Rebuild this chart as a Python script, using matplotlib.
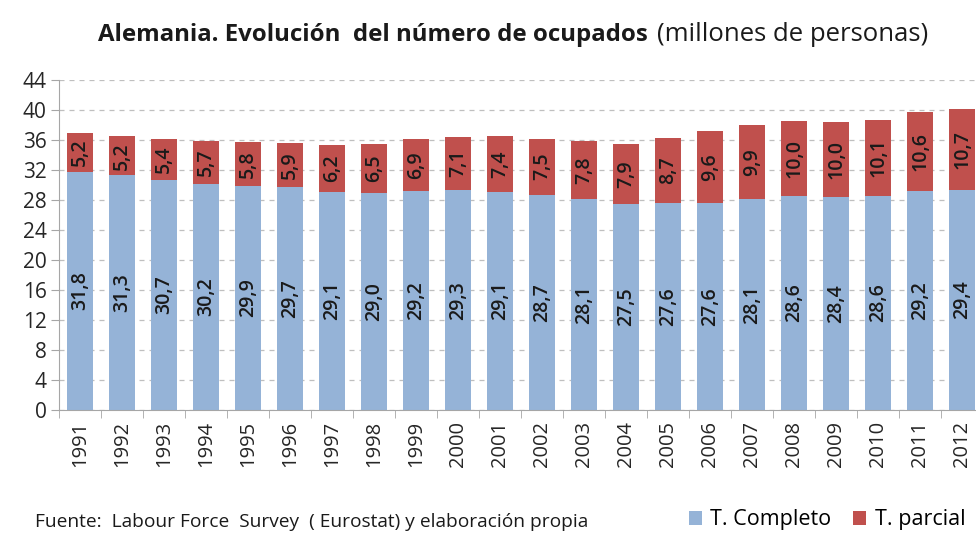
import matplotlib.pyplot as plt
import numpy as np

years = [str(y) for y in range(1991, 2013)]
completo = [31.8, 31.3, 30.7, 30.2, 29.9, 29.7, 29.1, 29.0, 29.2, 29.3, 29.1,
            28.7, 28.1, 27.5, 27.6, 27.6, 28.1, 28.6, 28.4, 28.6, 29.2, 29.4]
parcial = [5.2, 5.2, 5.4, 5.7, 5.8, 5.9, 6.2, 6.5, 6.9, 7.1, 7.4,
           7.5, 7.8, 7.9, 8.7, 9.6, 9.9, 10.0, 10.0, 10.1, 10.6, 10.7]
yticks = list(range(0, 45, 4))

blue = '#95B3D7'
red = '#C0504D'
grey = '#A6A6A6'

plt.rcParams['font.family'] = ['Open Sans', 'DejaVu Sans']

fig = plt.figure(figsize=(9.76, 5.33), dpi=100)
ax = fig.add_axes([59 / 976, 1 - 410 / 533, 924 / 976, 330 / 533])

x = np.arange(len(years))
w = 0.62
b1 = ax.bar(x, completo, w, color=blue, label='T. Completo', zorder=2)
b2 = ax.bar(x, parcial, w, bottom=completo, color=red, label='T. parcial', zorder=2)

for i in range(len(years)):
    ax.text(x[i], completo[i] / 2, f"{completo[i]:.1f}".replace('.', ','),
            rotation=90, ha='center', va='center', fontsize=14,
            fontweight='semibold', color='#1a1a1a', zorder=3)
    ax.text(x[i], completo[i] + parcial[i] / 2, f"{parcial[i]:.1f}".replace('.', ','),
            rotation=90, ha='center', va='center', fontsize=14,
            fontweight='semibold', color='#1a1a1a', zorder=3)

ax.set_xlim(-0.5, len(years) - 0.5)
ax.set_ylim(0, 44)
ax.set_yticks(yticks)
ax.set_yticklabels([str(t) for t in yticks], fontsize=15, color='#262626')
ax.yaxis.grid(True, linestyle=(0, (4, 4)), color='#BFBFBF', linewidth=0.9, zorder=0)

ax.set_xticks(x)
ax.set_xticklabels(years, rotation=90, fontsize=14.5, color='#262626')
ax.set_xticks(np.arange(-0.5, len(years), 1), minor=True)
ax.tick_params(axis='x', which='major', length=0, pad=8)
ax.tick_params(axis='x', which='minor', length=6, color=grey, direction='out')
ax.tick_params(axis='y', length=6, color=grey, direction='out', pad=3)

for s in ['top', 'right']:
    ax.spines[s].set_visible(False)
ax.spines['left'].set_color(grey)
ax.spines['bottom'].set_color(grey)

fig.text(648 / 976, 0.935, "Alemania. Evolución  del número de ocupados", fontsize=17.3,
         fontweight='bold', ha='right', va='center', color='#1a1a1a')
fig.text(657 / 976, 0.935, "(millones de personas)", fontsize=18.5,
         ha='left', va='center', color='#1a1a1a')

fig.text(35 / 976, 1 - 522 / 533, "Fuente:  Labour Force  Survey  ( Eurostat) y elaboración propia",
         fontsize=13.8, ha='left', va='center', color='#1a1a1a')

fig.legend(handles=[b1, b2], loc='center right', bbox_to_anchor=(1.0, 1 - 520 / 533),
           ncol=2, frameon=False, fontsize=15.5, handlelength=0.6, handleheight=0.6,
           handletextpad=0.4, columnspacing=1.0, borderaxespad=0.1)

fig.savefig('out.png', dpi=100)
